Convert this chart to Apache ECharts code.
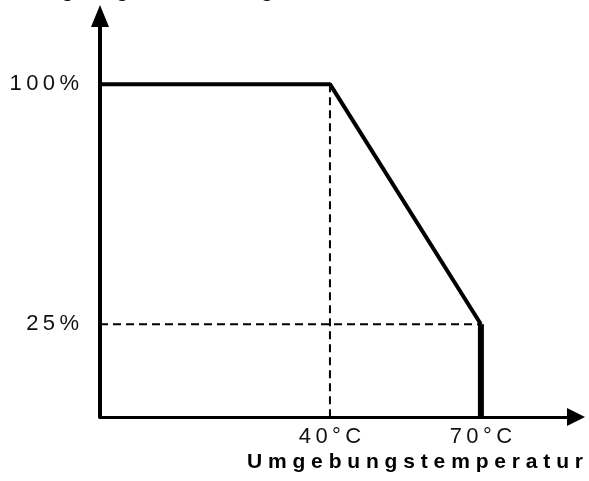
<!DOCTYPE html>
<html>
<head>
<meta charset="utf-8">
<script src="https://cdn.jsdelivr.net/npm/echarts@6/dist/echarts.min.js"></script>
<style>
  html, body { margin: 0; padding: 0; background: #fff; }
  #chart { width: 589px; height: 481px; }
</style>
</head>
<body>
<div id="chart"></div>
<script>
// derating curve: output power vs ambient temperature
const curveTemp = [-5.7, 40, 70];
const curvePower = [100, 100, 25];
const dropTemp = [70, 70];
const dropPower = [25, -4];
const tempTicks = [40, 70];
const powerTicks = [25, 100];

// spaced-out text like the original drawing
function spaced(s, sep) { return s.split('').join(sep || ' '); }

const chart = echarts.init(document.getElementById('chart'));

const xMin = -5.7, yMin = -4;

const option = {
  animation: false,
  title: [
    {
      text: spaced('Ausgangsleistung'),
      left: 4, top: -19.5, padding: 0,
      textStyle: { fontFamily: 'Liberation Sans', fontSize: 21, fontWeight: 'bold', color: '#000' }
    },
    {
      text: spaced('Umgebungstemperatur'),
      right: 6, top: 452, padding: 0,
      textStyle: { fontFamily: 'Liberation Sans', fontSize: 21, fontWeight: 'bold', color: '#000' }
    }
  ],
  grid: { left: 100, right: 13, top: 16, bottom: 64, containLabel: false, outerBoundsMode: 'none' },
  xAxis: {
    type: 'value', min: xMin, max: 88.9,
    splitLine: { show: false },
    axisTick: { show: false },
    axisLine: {
      onZero: false,
      symbol: ['none', 'triangle'], symbolSize: [18, 18],
      lineStyle: { color: '#000', width: 3 }
    },
    axisLabel: {
      customValues: tempTicks,
      margin: 9,
      fontFamily: 'Liberation Sans', fontSize: 22, color: '#111',
      formatter: v => spaced(v + '°C', '\u2009')
    }
  },
  yAxis: {
    type: 'value', min: yMin, max: 121.3,
    splitLine: { show: false },
    axisTick: { show: false },
    axisLine: {
      onZero: false,
      symbol: ['none', 'triangle'], symbolSize: [18, 22],
      lineStyle: { color: '#000', width: 4 }
    },
    axisLabel: {
      customValues: powerTicks,
      margin: 21,
      fontFamily: 'Liberation Sans', fontSize: 22, color: '#111',
      formatter: v => spaced(v + '%', '\u2009')
    }
  },
  series: [
    {
      type: 'line', symbol: 'none', z: 3,
      data: [[xMin, curvePower[2]], [curveTemp[2], curvePower[2]]],
      lineStyle: { color: '#000', width: 2, type: [8, 5] }
    },
    {
      type: 'line', symbol: 'none', z: 3,
      data: [[curveTemp[1], curvePower[1]], [curveTemp[1], yMin]],
      lineStyle: { color: '#000', width: 2, type: [8, 5] }
    },
    {
      type: 'line', symbol: 'none', z: 4,
      data: curveTemp.map((t, i) => [t, curvePower[i]]),
      lineStyle: { color: '#000', width: 4 }
    },
    {
      type: 'line', symbol: 'none', z: 4,
      data: dropTemp.map((t, i) => [t, dropPower[i]]),
      lineStyle: { color: '#000', width: 6 }
    }
  ]
};

chart.setOption(option);
</script>
</body>
</html>
